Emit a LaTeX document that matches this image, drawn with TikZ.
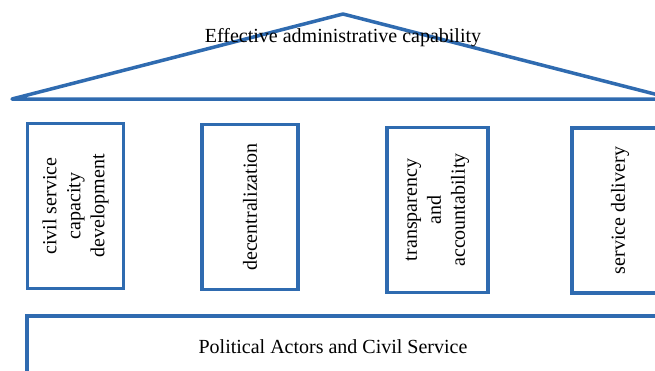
\documentclass[tikz,border=0pt]{standalone}
\usepackage{fontspec}
\setmainfont{Liberation Serif}
\usepackage{tikz}
\usetikzlibrary{positioning}
\definecolor{roofblue}{RGB}{47,107,176}
\tikzstyle{temple}=[
    x=1pt,y=-1pt,line width=3.5pt,line join=miter,
    every node/.style={
        align=center,
        font=\fontsize{20}{24}\selectfont,
    }]
\tikzstyle{pillar}=[
    draw=roofblue,rotate=90,inner sep=0pt,
    minimum width=165pt,minimum height=96pt]
\newcommand{\pillarlabel}[1]{#1}

\begin{document}
\begin{tikzpicture}[temple]
        \clip (0,0) rectangle (655,370);
        \fill[white] (0,0) rectangle (655,370);

        % roof
        \coordinate (apex) at (343,14);
        \coordinate (eaveL) at (12,99);
        \coordinate (eaveR) at (674,99);
        \draw[roofblue, line join=round] (eaveL) -- (apex) -- (eaveR) -- cycle;
        \node (goal) at (343,38) {Effective administrative capability};

        % pillars
        \node[pillar] (civil) at (75.5,206) {\pillarlabel{civil service\\capacity\\development}};
        \node[pillar] (decentral) at (250,207) {\pillarlabel{decentralization}};
        \node[pillar, minimum height=101pt] (transp) at (437.5,210) {\pillarlabel{transparency\\and\\accountability}};
        \node[pillar] (delivery) at (620,210.5) {\pillarlabel{service delivery}};

        % foundation
        \coordinate (baseNW) at (27,316);
        \coordinate (baseSE) at (680,390);
        \draw[roofblue] (baseNW) rectangle (baseSE);
        \node (actors) at (333,347) {Political Actors and Civil Service};
    \end{tikzpicture}
\end{document}
